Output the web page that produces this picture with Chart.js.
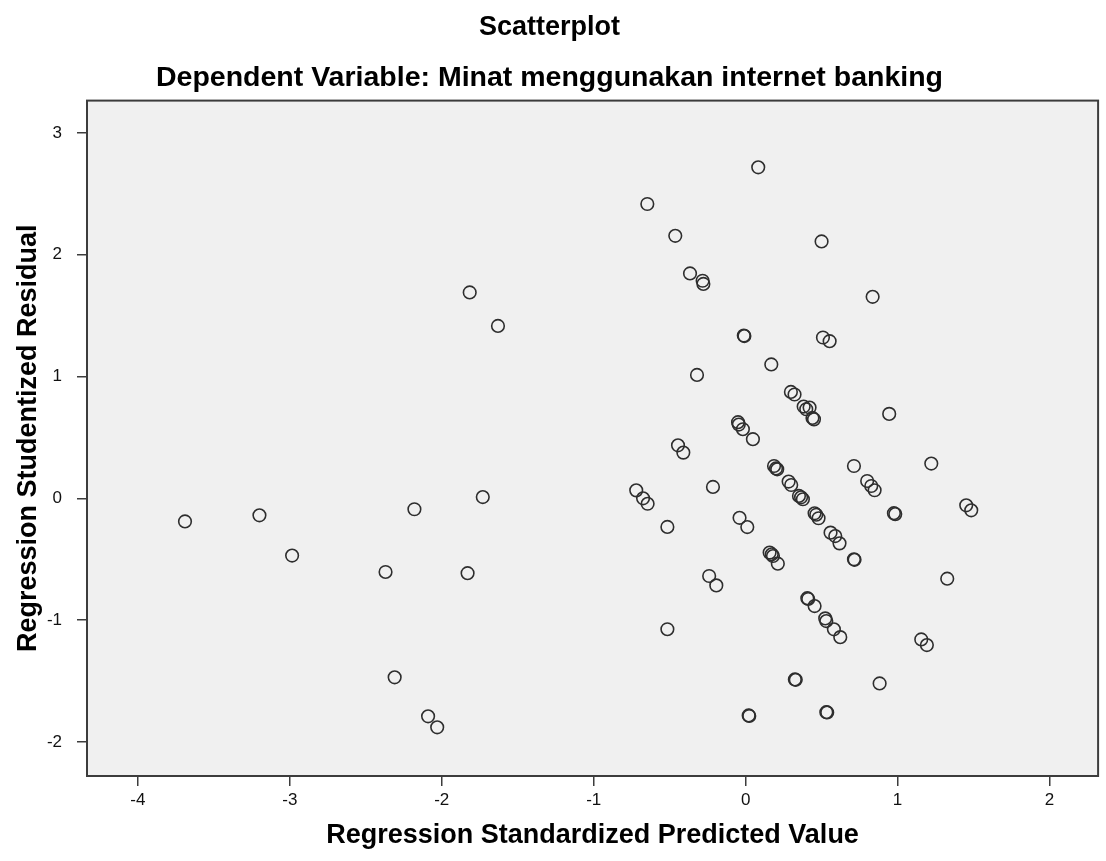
<!DOCTYPE html>
<html>
<head>
<meta charset="utf-8">
<script src="https://cdn.jsdelivr.net/npm/chart.js@4.4.1/dist/chart.umd.min.js"></script>
<style>
  html, body { margin: 0; padding: 0; background: #ffffff; }
  #wrap { width: 1106px; height: 861px; }
</style>
</head>
<body>
<div id="wrap"><canvas id="c" width="1106" height="861"></canvas></div>
<script>
// ---- Data ----
const chartTitle = "Scatterplot";
const chartSubtitle = "Dependent Variable: Minat menggunakan internet banking";
const xAxisTitle = "Regression Standardized Predicted Value";
const yAxisTitle = "Regression Studentized Residual";

const xTickValues = [-4, -3, -2, -1, 0, 1, 2];
const yTickValues = [-2, -1, 0, 1, 2, 3];
const xRange = [-4.335, 2.32];
const yRange = [-2.28, 3.265];

// Regression Standardized Predicted Value
const predicted = [
  -3.69, -3.20, -2.985, -2.37, -2.18, -2.31, -2.09, -2.03, -1.83, -1.816,
  -1.73, -1.63, -0.72, -0.675, -0.645, -0.515, -0.515, -0.647, -0.463, -0.445,
  -0.41, -0.366, -0.283, -0.278, -0.32, -0.24, -0.193, -0.215, -0.05, -0.045,
  -0.018, 0.048, -0.04, 0.011, -0.012, -0.008, 0.083, 0.02, 0.024, 0.169,
  0.187, 0.20, 0.208, 0.158, 0.172, 0.18, 0.212, 0.283, 0.30, 0.298,
  0.322, 0.351, 0.365, 0.377, 0.382, 0.421, 0.399, 0.44, 0.45, 0.324,
  0.33, 0.406, 0.412, 0.454, 0.454, 0.465, 0.48, 0.50, 0.509, 0.553,
  0.524, 0.531, 0.581, 0.623, 0.531, 0.537, 0.559, 0.59, 0.618, 0.713,
  0.713, 0.717, 0.80, 0.827, 0.849, 0.836, 0.882, 0.945, 0.976, 0.985,
  1.156, 1.193, 1.222, 1.327, 1.452, 1.485
];
// Regression Studentized Residual
const residual = [
  -0.19, -0.14, -0.47, -0.605, -0.09, -1.47, -1.79, -1.88, -0.615, 1.69,
  0.01, 1.415, 0.065, 0.0, -0.045, -0.235, -1.075, 2.416, 2.155, 0.435,
  0.375, 1.846, 1.786, 1.76, 1.013, -0.638, -0.715, 0.093, 0.625, 0.605,
  0.567, 0.485, -0.16, -0.236, 1.336, 1.332, 2.717, -1.783, -1.787, 1.099,
  0.265, 0.245, 0.238, -0.446, -0.46, -0.474, -0.537, 0.137, 0.109, 0.873,
  0.852, 0.019, 0.008, -0.008, 0.753, 0.745, 0.731, 0.66, 0.648, -1.487,
  -1.49, -0.82, -0.826, -0.885, -0.123, -0.135, -0.164, 2.109, 1.32, 1.29,
  -0.986, -1.008, -1.076, -1.14, -1.756, -1.758, -0.282, -0.31, -0.37, 0.265,
  -0.501, -0.505, 0.142, 0.101, 0.066, 1.654, -1.52, 0.693, -0.122, -0.13,
  -1.159, -1.205, 0.285, -0.66, -0.058, -0.099
];

const points = predicted.map((x, i) => ({ x: x, y: residual[i] }));

const FONT = "'Liberation Sans', Arial, Helvetica, sans-serif";
const FRAME = '#3c3c3c';

const framePlugin = {
  id: 'frame',
  beforeDatasetsDraw(chart) {
    const a = chart.chartArea, ctx = chart.ctx;
    ctx.save();
    ctx.fillStyle = '#f0f0f0';
    ctx.fillRect(a.left, a.top, a.right - a.left, a.bottom - a.top);
    ctx.restore();
  },
  afterDraw(chart) {
    const a = chart.chartArea, ctx = chart.ctx;
    ctx.save();
    ctx.strokeStyle = FRAME;
    ctx.lineWidth = 2;
    ctx.strokeRect(a.left, a.top, a.right - a.left, a.bottom - a.top);
    ctx.restore();
  }
};

new Chart(document.getElementById('c'), {
  type: 'scatter',
  data: {
    datasets: [{
      data: points,
      pointStyle: 'circle',
      pointRadius: 6.3,
      pointHoverRadius: 6.3,
      pointBorderWidth: 1.6,
      borderColor: '#2e2e2e',
      backgroundColor: 'rgba(0,0,0,0)'
    }]
  },
  plugins: [framePlugin],
  options: {
    responsive: false,
    animation: false,
    events: [],
    layout: { padding: { left: 0, right: 7, top: 0, bottom: 0 } },
    plugins: {
      legend: { display: false },
      tooltip: { enabled: false },
      title: {
        display: true,
        text: chartTitle,
        color: '#000',
        font: { family: FONT, size: 27, weight: 'bold', lineHeight: 1.2 },
        padding: { top: 11, bottom: 0 }
      },
      subtitle: {
        display: true,
        text: chartSubtitle,
        color: '#000',
        font: { family: FONT, size: 28.5, weight: 'bold', lineHeight: 1.2 },
        padding: { top: 18, bottom: 5 }
      }
    },
    scales: {
      x: {
        type: 'linear',
        min: xRange[0],
        max: xRange[1],
        afterBuildTicks(s) { s.ticks = xTickValues.map(v => ({ value: v })); },
        afterFit(s) { s.height = 85; },
        grid: { drawOnChartArea: false, drawTicks: true, tickLength: 10, color: FRAME, lineWidth: 1.5 },
        border: { display: false },
        ticks: {
          color: '#111',
          font: { family: FONT, size: 17 },
          padding: 4,
          maxRotation: 0,
          autoSkip: false
        },
        title: {
          display: true,
          text: xAxisTitle,
          color: '#000',
          font: { family: FONT, size: 27, weight: 'bold', lineHeight: 1.2 },
          padding: { top: 0, bottom: 9 }
        }
      },
      y: {
        type: 'linear',
        min: yRange[0],
        max: yRange[1],
        afterBuildTicks(s) { s.ticks = yTickValues.map(v => ({ value: v })); },
        afterFit(s) { s.width = 87; },
        grid: { drawOnChartArea: false, drawTicks: true, tickLength: 10, color: FRAME, lineWidth: 1.5 },
        border: { display: false },
        ticks: {
          color: '#111',
          font: { family: FONT, size: 17 },
          padding: 15,
          autoSkip: false
        },
        title: {
          display: true,
          text: yAxisTitle,
          color: '#000',
          font: { family: FONT, size: 27, weight: 'bold', lineHeight: 1.2 },
          padding: { top: 12, bottom: 0 }
        }
      }
    }
  }
});
</script>
</body>
</html>
